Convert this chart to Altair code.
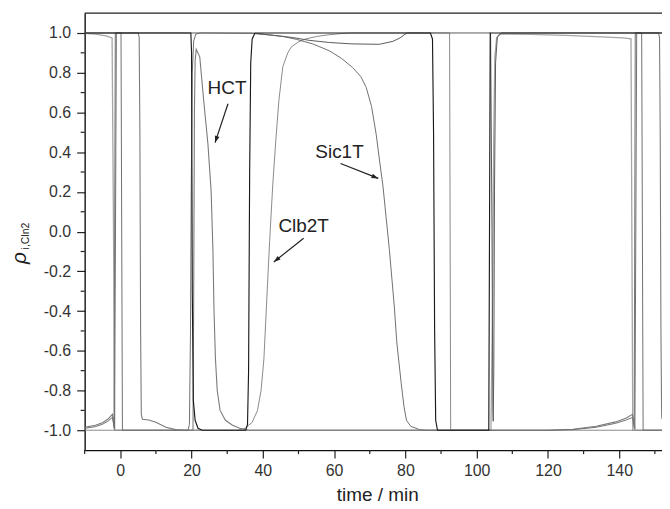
import math
import altair as alt
import pandas as pd

# ---- data: (time / min, rho) ----
curve_s1 = [(-10, 0.998), (-7, 0.994), (-4, 0.985), (-2.3, 0.975), (-1.9, 0.0), (-1.6, -1.0),
            (104.0, -1.0), (104.5, -0.3), (104.8, 0.5), (105.1, 0.88), (105.6, 0.975), (106.5, 0.995),
            (115, 0.993), (125, 0.988), (135, 0.98), (141, 0.975), (143.3, 0.97), (143.8, -1.0), (152, -1.0)]

curve_hct = [(-10, -0.985), (-7, -0.975), (-5, -0.962), (-3.5, -0.945), (-2.2, -0.92), (-1.75, -0.99),
             (-1.4, 1.0), (5.0, 1.0), (5.3, 0.98), (5.5, 0.5), (5.7, -0.5), (5.9, -0.92), (6.2, -0.945),
             (8, -0.948), (10, -0.96), (12.8, -0.985), (15.5, -0.997), (18, -1.0), (20.4, -1.0),
             (20.6, -0.3), (20.8, 0.6), (21.0, 0.86), (21.3, 0.918), (22.3, 0.88), (23.4, 0.66),
             (24.6, 0.44), (25.5, 0.2), (26.0, -0.1), (26.3, -0.4), (26.7, -0.64), (27.2, -0.8),
             (28, -0.9), (29.5, -0.95), (31.5, -0.975), (33.5, -0.99), (36, -1.0), (120, -1.0),
             (127, -0.995), (133.5, -0.98), (139, -0.958), (142, -0.938), (143.7, -0.92),
             (144.2, -0.99), (144.5, 1.0), (151.0, 1.0), (151.3, 0.98), (151.5, 0.5), (151.7, -0.5),
             (151.9, -0.92), (152, -0.945)]

curve_sic1t = [(-10, -0.99), (-7, -0.982), (-5, -0.97), (-3.5, -0.955), (-2.2, -0.935), (-1.6, -0.995),
               (-1.1, 1.0), (0.2, 1.0), (0.6, -1.0), (19.0, -1.0), (19.4, -0.97), (19.7, -0.5),
               (19.9, 0.2), (20.2, 0.8), (20.6, 0.96), (21.2, 0.995), (22.5, 1.0), (37, 0.998),
               (42, 0.99), (45.5, 0.983), (49.4, 0.968), (54, 0.945), (58.7, 0.91), (62, 0.873),
               (65.2, 0.826), (67.5, 0.78), (69, 0.726), (70.5, 0.63), (71.8, 0.49), (72.8, 0.35),
               (73.7, 0.23), (74.6, 0.07), (75.5, -0.09), (76.9, -0.38), (77.6, -0.56), (78.8, -0.76),
               (79.6, -0.88), (80.3, -0.95), (81.5, -0.98), (84, -0.997), (86, -1.0), (120, -1.0),
               (127, -0.997), (133.5, -0.985), (139, -0.965), (142, -0.948), (143.8, -0.935),
               (144.4, -0.995), (144.9, 1.0), (146.3, 1.0), (146.7, -1.0), (152, -1.0)]

curve_clb2t = [(-10, -1.0), (33, -1.0), (35, -0.99), (37, -0.96), (38.5, -0.9), (39.5, -0.8),
               (40.3, -0.64), (41.0, -0.38), (41.9, -0.05), (42.8, 0.24), (43.6, 0.45), (44.5, 0.66),
               (45.6, 0.83), (47, 0.9), (48, 0.93), (50, 0.955), (52, 0.97), (55, 0.982), (58, 0.99),
               (62, 0.997), (65, 1.0), (92.4, 1.0), (92.7, -1.0), (152, -1.0)]

curve_s6 = [(-10, 1.0), (37, 1.0), (42, 0.99), (48.4, 0.977), (53, 0.963), (58.7, 0.952), (65, 0.945),
            (72.7, 0.943), (76.5, 0.958), (78.5, 0.975), (79.6, 0.99), (80.5, 1.0), (103.9, 1.0),
            (104.3, 0.0), (104.55, -0.9), (104.65, -0.955), (104.8, -0.7), (105.0, 0.2), (105.3, 0.85),
            (105.8, 0.98), (107, 1.0), (152, 1.0)]

curve_black = [(-10, 1.0), (19.8, 1.0), (20.0, 0.9), (20.2, -0.3), (20.5, -0.85), (21.0, -0.95),
               (21.8, -0.99), (23, -1.0), (35.2, -1.0), (35.7, -0.97), (36.0, -0.7), (36.3, 0.3),
               (36.6, 0.85), (37.0, 0.97), (37.8, 1.0), (87.0, 1.0), (87.6, 0.97), (87.9, 0.5),
               (88.2, -0.5), (88.5, -0.95), (89.0, -1.0), (103.4, -1.0), (103.6, 0.0), (103.8, 1.0),
               (152, 1.0)]

y_ticks = [-1.0, -0.8, -0.6, -0.4, -0.2, 0.0, 0.2, 0.4, 0.6, 0.8, 1.0]
y_minor = [-0.9, -0.7, -0.5, -0.3, -0.1, 0.1, 0.3, 0.5, 0.7, 0.9]
x_ticks = [0, 20, 40, 60, 80, 100, 120, 140]
x_minor = [-10, 10, 30, 50, 70, 90, 110, 130, 150]

labels = ["HCT", "Sic1T", "Clb2T"]
label_t = [29.94, 61.51, 51.45]
label_r = [0.724, 0.403, 0.027]
arrow_t0 = [30.22, 61.79, 51.45]
arrow_r0 = [0.644, 0.343, -0.033]
arrow_t1 = [26.59, 72.40, 43.07]
arrow_r1 = [0.448, 0.268, -0.153]

# ---- layout ----
W, H = 580, 439
X_DOM = [-10, 152]
Y_DOM = [-1.1, 1.1]
PX_X = W / (X_DOM[1] - X_DOM[0])
PX_Y = H / (Y_DOM[1] - Y_DOM[0])
FONT = "Liberation Sans"

xs = alt.Scale(domain=X_DOM, nice=False, zero=False)
ys = alt.Scale(domain=Y_DOM, nice=False, zero=False)

series = [
    (curve_s1, "#a5a5a5", 1.3),
    (curve_clb2t, "#8a8a8a", 1.0),
    (curve_hct, "#7a7a7a", 1.1),
    (curve_sic1t, "#707070", 1.0),
    (curve_s6, "#5a5a5a", 1.0),
    (curve_black, "#1a1a1a", 1.15),
]

layers = []
for i, (pts, col, sw) in enumerate(series):
    df = pd.DataFrame({"t": [p[0] for p in pts], "r": [p[1] for p in pts], "k": list(range(len(pts)))})
    enc = dict(
        x=alt.X("t:Q", scale=xs),
        y=alt.Y("r:Q", scale=ys),
        order=alt.Order("k:Q"),
    )
    if i == 0:
        enc["x"] = alt.X(
            "t:Q", scale=xs,
            axis=alt.Axis(values=x_ticks, format="d", title="time / min", grid=False,
                          tickSize=8, labelPadding=5, titleFontSize=19, titleFontWeight="normal",
                          titleFont=FONT, titleColor="#222222", titleBaseline="alphabetic",
                          titleY=51, titleX=W / 2 + 4),
        )
        enc["y"] = alt.Y(
            "r:Q", scale=ys,
            axis=alt.Axis(values=y_ticks, title=None, grid=False,
                          labelExpr="replace(format(datum.value, '.1f'), '\u2212', '-')",
                          tickSize=8, labelPadding=6),
        )
    layers.append(
        alt.Chart(df).mark_line(color=col, strokeWidth=sw, clip=True, interpolate="linear").encode(**enc)
    )

# minor ticks
ymin_df = pd.DataFrame({"r": y_minor})
layers.append(alt.Chart(ymin_df).mark_rule(color="#222222", strokeWidth=1.2).encode(
    y=alt.Y("r:Q", scale=ys), x=alt.value(-4), x2=alt.value(0)))
xmin_df = pd.DataFrame({"t": x_minor})
layers.append(alt.Chart(xmin_df).mark_rule(color="#222222", strokeWidth=1.2).encode(
    x=alt.X("t:Q", scale=xs), y=alt.value(H), y2=alt.value(H + 4)))

# top border
layers.append(alt.Chart(pd.DataFrame({"a": [0]})).mark_rule(color="#222222", strokeWidth=1.3).encode(
    x=alt.value(0), x2=alt.value(W), y=alt.value(0)))

# annotations
ann = pd.DataFrame({"lab": labels, "t": label_t, "r": label_r})
layers.append(alt.Chart(ann).mark_text(font=FONT, fontSize=19, color="#222222", align="center",
                                       baseline="middle").encode(
    x=alt.X("t:Q", scale=xs), y=alt.Y("r:Q", scale=ys), text="lab:N"))

arr = pd.DataFrame({"t0": arrow_t0, "r0": arrow_r0, "t1": arrow_t1, "r1": arrow_r1})
angles = []
for a, b, c, d in zip(arrow_t0, arrow_r0, arrow_t1, arrow_r1):
    dx = (c - a) * PX_X
    dy = -(d - b) * PX_Y
    angles.append(math.degrees(math.atan2(dx, -dy)) % 360)
arr["ang"] = angles
layers.append(alt.Chart(arr).mark_rule(color="#222222", strokeWidth=1.2).encode(
    x=alt.X("t0:Q", scale=xs), y=alt.Y("r0:Q", scale=ys), x2="t1:Q", y2="r1:Q"))
layers.append(alt.Chart(arr).mark_point(
    shape="M0,0L-0.45,1.3L0.45,1.3Z", filled=True, color="#222222", opacity=1, size=110).encode(
    x=alt.X("t1:Q", scale=xs), y=alt.Y("r1:Q", scale=ys), angle=alt.Angle("ang:Q", scale=None)))

# y axis title: rho with subscript
layers.append(alt.Chart(pd.DataFrame({"a": [0]})).mark_text(
    text="ρ", font=FONT, fontSize=21, fontStyle="italic", angle=270, color="#222222",
    align="center", baseline="middle").encode(x=alt.value(-65), y=alt.value(246)))
layers.append(alt.Chart(pd.DataFrame({"a": [0]})).mark_text(
    text="i,Cln2", font=FONT, fontSize=10.5, angle=270, color="#222222",
    align="center", baseline="middle").encode(x=alt.value(-59), y=alt.value(224)))

chart = alt.layer(*layers).properties(
    width=W, height=H,
    autosize=alt.AutoSizeParams(type="none"),
    padding={"left": 77, "top": 4, "right": 0, "bottom": 54},
).configure_view(stroke=None).configure_axis(
    domainColor="#111111", domainWidth=1.4, tickColor="#222222", tickWidth=1.2,
    labelFont=FONT, labelFontSize=16, labelColor="#333333",
)

chart.save("out.html", embed_options={"renderer": "svg", "actions": False})
